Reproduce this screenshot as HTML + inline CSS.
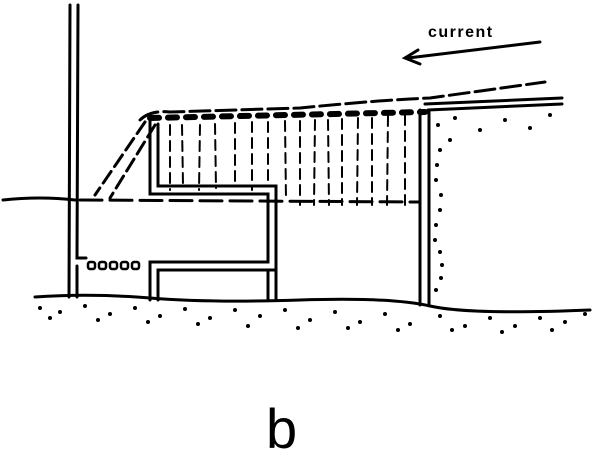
<!DOCTYPE html>
<html><head><style>body{margin:0;background:#fff}svg{display:block}</style></head><body>
<svg width="600" height="465" viewBox="0 0 600 465" xmlns="http://www.w3.org/2000/svg">
<g fill="none" stroke="#000" stroke-width="3" stroke-linecap="round">
<path d="M70 5 L69 297 M78 5 L77 258 L86 258 M77 266 L77 297"/>
<path d="M420 110 L420 305 M429 112 L429 305"/>
<path d="M425 104 L562 98 M428 110 L562 104" stroke-width="3"/>
<path d="M35 297 Q90 293 150 298 T300 300 T430 306 T590 310"/>
<path d="M3 200 Q40 196 75 200" />
<path d="M80 200 L420 202" stroke-dasharray="22 8"/>
<path d="M150 118 L425 112" stroke-width="6" stroke-dasharray="9 9"/>
<path d="M140 120 Q150 110 170 112 L300 108 Q380 100 430 98 L545 82" stroke-dasharray="20 6"/>
<path d="M145 122 L95 195 M155 125 L110 198" stroke-dasharray="14 6"/>
<path d="M150 120 L150 194 L268 194 L268 262 L150 262 L150 300 M158 124 L158 186 L276 186 L276 270 L158 270 L158 300 M268 270 L268 300 M276 270 L276 300" stroke-width="3"/>
<g stroke-width="2" stroke-dasharray="10 6">
<path d="M170 125 L170 190 M182 125 L183 185 M200 125 L199 190 M215 124 L216 188 M235 123 L235 185 M252 122 L252 190 M268 122 L268 180 M285 121 L286 200 M300 121 L300 205 M315 120 L314 205 M328 120 L329 205 M342 119 L342 205 M358 118 L357 205 M372 118 L372 205 M388 116 L387 205 M405 115 L405 205"/>
</g>
<g stroke-width="2.5">
<rect x="88" y="262" width="7" height="7" rx="2"/><rect x="99" y="262" width="7" height="7" rx="2"/><rect x="110" y="262" width="7" height="7" rx="2"/><rect x="121" y="262" width="7" height="7" rx="2"/><rect x="132" y="262" width="7" height="7" rx="2"/>
</g>
<path d="M540 42 L408 58" stroke-width="3"/>
<path d="M418 50 L405 58 L420 64" stroke-width="3"/>
</g>
<g fill="#000">
<circle cx="40" cy="308" r="2"/><circle cx="60" cy="312" r="2"/><circle cx="85" cy="306" r="2"/><circle cx="110" cy="314" r="2"/><circle cx="135" cy="308" r="2"/><circle cx="160" cy="316" r="2"/><circle cx="185" cy="309" r="2"/><circle cx="210" cy="318" r="2"/><circle cx="235" cy="310" r="2"/><circle cx="260" cy="316" r="2"/><circle cx="285" cy="310" r="2"/><circle cx="310" cy="320" r="2"/><circle cx="335" cy="312" r="2"/><circle cx="360" cy="322" r="2"/><circle cx="385" cy="314" r="2"/><circle cx="410" cy="324" r="2"/><circle cx="440" cy="316" r="2"/><circle cx="465" cy="326" r="2"/><circle cx="490" cy="318" r="2"/><circle cx="515" cy="326" r="2"/><circle cx="540" cy="318" r="2"/><circle cx="565" cy="322" r="2"/><circle cx="585" cy="314" r="2"/>
<circle cx="50" cy="318" r="2"/><circle cx="98" cy="320" r="2"/><circle cx="148" cy="322" r="2"/><circle cx="198" cy="324" r="2"/><circle cx="248" cy="326" r="2"/><circle cx="298" cy="328" r="2"/><circle cx="348" cy="328" r="2"/><circle cx="398" cy="330" r="2"/><circle cx="452" cy="330" r="2"/><circle cx="502" cy="332" r="2"/><circle cx="552" cy="330" r="2"/>
<circle cx="438" cy="125" r="2"/><circle cx="455" cy="118" r="2"/><circle cx="480" cy="130" r="2"/><circle cx="505" cy="120" r="2"/><circle cx="530" cy="128" r="2"/><circle cx="550" cy="115" r="2"/><circle cx="440" cy="150" r="2"/><circle cx="436" cy="180" r="2"/><circle cx="440" cy="210" r="2"/><circle cx="435" cy="240" r="2"/><circle cx="442" cy="265" r="2"/><circle cx="436" cy="290" r="2"/><circle cx="450" cy="140" r="2"/><circle cx="437" cy="165" r="2"/><circle cx="441" cy="195" r="2"/><circle cx="436" cy="225" r="2"/><circle cx="440" cy="252" r="2"/><circle cx="441" cy="278" r="2"/>
</g>
<text x="428" y="37" font-family="Liberation Sans, sans-serif" font-size="16" font-weight="bold" letter-spacing="1.5">current</text>
<text x="266" y="448" font-family="Liberation Sans, sans-serif" font-size="56">b</text>
</svg>
</body></html>
